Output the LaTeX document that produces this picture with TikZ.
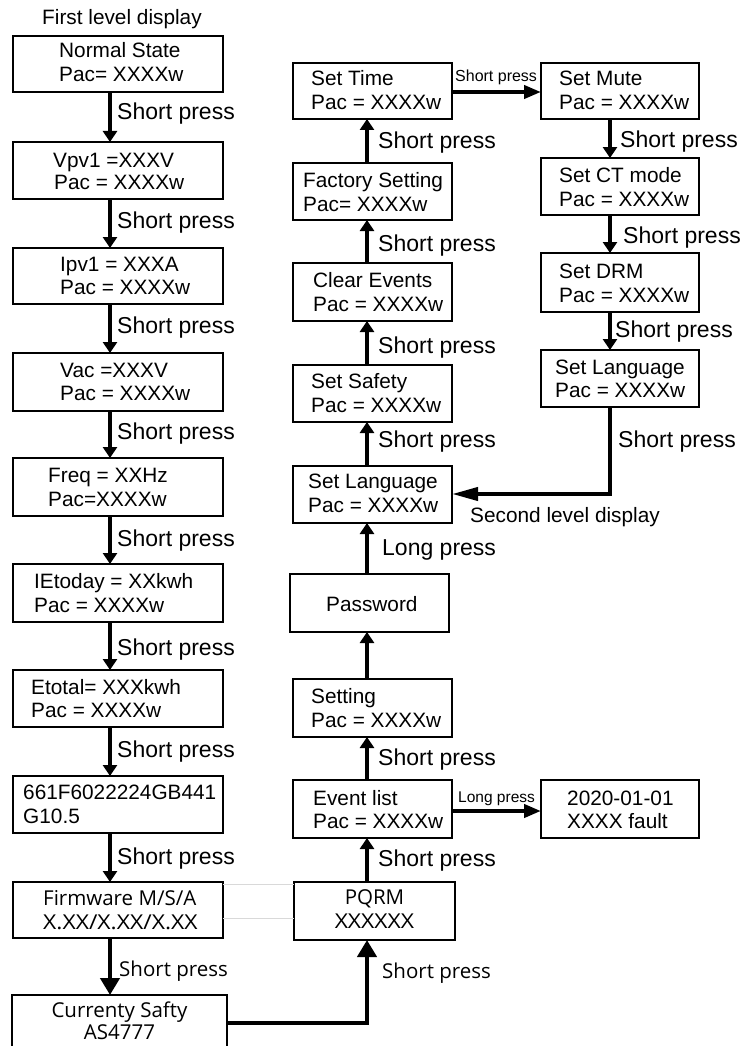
\documentclass[tikz,border=0pt]{standalone}
\usepackage{graphicx}
\usepackage{fontspec}
\setmainfont{Liberation Sans}
\newfontfamily\segf{Open Sans}
\usetikzlibrary{arrows.meta,fit}
\newcommand{\widex}[1]{\scalebox{1.12}[1]{#1}}
\begin{document}
\begin{tikzpicture}[x=1pt,y=-1pt,
  box/.style={draw, line width=1.9pt, inner sep=0pt, outer sep=0pt, fit={#1}},
  tx/.style={anchor=base west, inner sep=0pt, font=\fontsize{20.8}{24}\selectfont},
  txc/.style={anchor=base, inner sep=0pt, font=\segf\fontsize{20.5}{23}\selectfont},
  txs/.style={anchor=base west, inner sep=0pt, font=\segf\fontsize{20.5}{23}\selectfont},
  lab/.style={anchor=base west, inner sep=0pt, font=\fontsize{23}{27}\selectfont},
  slab/.style={anchor=base west, inner sep=0pt, font=\fontsize{15.5}{18}\selectfont},
  arr/.style={line width=4pt, -{Triangle[width=14pt,length=11pt]}},
  arrH/.style={line width=4pt, -{Triangle[width=13pt,length=17pt]}},
  arrB/.style={line width=4.5pt, -{Triangle[width=19pt,length=17pt]}},
  arrL/.style={line width=4pt, -{Triangle[width=13pt,length=26pt]}},
  faint/.style={draw=gray!30, line width=0.6pt}]
\useasboundingbox (0,0) rectangle (743,1046);

% column coordinates
\coordinate (xl) at (110,0);
\coordinate (xm) at (367,0);
\coordinate (xr) at (610,0);
\coordinate (yt) at (0,92);
\coordinate (ye) at (0,811);
\coordinate (ylang) at (0,494);
\coordinate (yc) at (0,1023);
\coordinate (yf1) at (0,884);
\coordinate (yf2) at (0,918);

\node[tx] (title) at (42,25) {First level display};

% left column
\node[box={(13,36) (223,92)}] (ns) {};
\node[tx] (ns1) at (59,58) {Normal State};
\node[tx] (ns2) at (59,82) {Pac= XXXXw};

\node[box={(13,142) (223,199)}] (vpv) {};
\node[tx] (vpv1) at (53,167) {Vpv1 =XXXV};
\node[tx] (vpv2) at (54,189) {Pac = XXXXw};

\node[box={(13,248) (223,304)}] (ipv) {};
\node[tx] (ipv1) at (60,271) {Ipv1 = XXXA};
\node[tx] (ipv2) at (60,294) {Pac = XXXXw};

\node[box={(13,353) (223,411)}] (vac) {};
\node[tx] (vac1) at (60,377) {Vac =XXXV};
\node[tx] (vac2) at (60,400) {Pac = XXXXw};

\node[box={(13,458) (223,516)}] (frq) {};
\node[tx] (frq1) at (48,482) {Freq = XXHz};
\node[tx] (frq2) at (48,506) {Pac=XXXXw};

\node[box={(13,564) (223,622)}] (etd) {};
\node[tx] (etd1) at (34,588) {IEtoday = XXkwh};
\node[tx] (etd2) at (34,612) {Pac = XXXXw};

\node[box={(13,670) (223,727)}] (etl) {};
\node[tx] (etl1) at (31,694) {Etotal= XXXkwh};
\node[tx] (etl2) at (31,717) {Pac = XXXXw};

\node[box={(13,776) (223,833)}] (ser) {};
\node[tx] (ser1) at (23,799) {661F6022224GB441};
\node[tx] (ser2) at (23,823) {G10.5};

\node[box={(13,882) (223,938)}] (fw) {};
\node[txs] (fw1) at (43,905) {Firmware M/S/A};
\node[txs] (fw2) at (43,929) {\widex{X.XX/X.XX/X.XX}};

\node[box={(12,995) (227,1052)}] (cur) {};
\node[txc] (cur1) at (119.5,1017) {Currenty Safty};
\node[txc] (cur2) at (119.5,1039) {AS4777};

% middle column
\node[box={(293,63) (452,119)}] (stime) {};
\node[tx] (stime1) at (311,86) {Set Time};
\node[tx] (stime2) at (311,110) {Pac = XXXXw};

\node[box={(293,163) (452,220)}] (fact) {};
\node[tx] (fact1) at (303,187) {Factory Setting};
\node[tx] (fact2) at (303,211) {Pac= XXXXw};

\node[box={(293,263) (452,321)}] (clr) {};
\node[tx] (clr1) at (313,287) {Clear Events};
\node[tx] (clr2) at (313,311) {Pac = XXXXw};

\node[box={(293,365) (452,422)}] (ssaf) {};
\node[tx] (ssaf1) at (311,388) {Set Safety};
\node[tx] (ssaf2) at (311,412) {Pac = XXXXw};

\node[box={(293,466) (452,523)}] (slm) {};
\node[tx] (slm1) at (308,488) {Set Language};
\node[tx] (slm2) at (308,512) {Pac = XXXXw};

\node[box={(290,574) (449,632)}] (pwd) {};
\node[tx] (pwd1) at (326,611) {Password};

\node[box={(293,679) (452,737)}] (setg) {};
\node[tx] (setg1) at (311,703) {Setting};
\node[tx] (setg2) at (311,727) {Pac = XXXXw};

\node[box={(293,780) (452,838)}] (evl) {};
\node[tx] (evl1) at (313,805) {Event list};
\node[tx] (evl2) at (313,828) {Pac = XXXXw};

\node[box={(294,882) (455,940)}, line width=2.4pt] (pq) {};
\node[txc] (pq1) at (374.5,904) {PQRM};
\node[txc] (pq2) at (374.5,928) {\widex{XXXXXX}};

% right column
\node[box={(541,63) (699,119)}] (smute) {};
\node[tx] (smute1) at (559,86) {Set Mute};
\node[tx] (smute2) at (559,110) {Pac = XXXXw};

\node[box={(541,158) (699,215)}] (sct) {};
\node[tx] (sct1) at (559,182) {Set CT mode};
\node[tx] (sct2) at (559,206) {Pac = XXXXw};

\node[box={(541,253) (699,312)}] (sdrm) {};
\node[tx] (sdrm1) at (559,278) {Set DRM};
\node[tx] (sdrm2) at (559,302) {Pac = XXXXw};

\node[box={(541,350) (699,407)}] (slr) {};
\node[tx] (slr1) at (555,374) {Set Language};
\node[tx] (slr2) at (555,397) {Pac = XXXXw};

\node[box={(541,780) (699,838)}] (flt) {};
\node[tx] (flt1) at (567,805) {2020-01-01};
\node[tx] (flt2) at (567,828) {XXXX fault};

% left column connectors
\draw[arr] (ns.south -| xl) -- (vpv.north -| xl);
\draw[arr] (vpv.south -| xl) -- (ipv.north -| xl);
\draw[arr] (ipv.south -| xl) -- (vac.north -| xl);
\draw[arr] (vac.south -| xl) -- (frq.north -| xl);
\draw[arr] (frq.south -| xl) -- (etd.north -| xl);
\draw[arr] (etd.south -| xl) -- (etl.north -| xl);
\draw[arr] (etl.south -| xl) -- (ser.north -| xl);
\draw[arr] (ser.south -| xl) -- (fw.north -| xl);
\draw[arrB] (fw.south -| xl) -- (cur.north -| xl);
\draw[arrB] (cur.east |- yc) -| (pq.south -| xm);

% middle column connectors
\draw[arr] (pq.north -| xm) -- (evl.south -| xm);
\draw[arr] (evl.north -| xm) -- (setg.south -| xm);
\draw[arr] (setg.north -| xm) -- (pwd.south -| xm);
\draw[arr] (pwd.north -| xm) -- (slm.south -| xm);
\draw[arr] (slm.north -| xm) -- (ssaf.south -| xm);
\draw[arr] (ssaf.north -| xm) -- (clr.south -| xm);
\draw[arr] (clr.north -| xm) -- (fact.south -| xm);
\draw[arr] (fact.north -| xm) -- (stime.south -| xm);
\draw[arrH] (stime.east |- yt) -- (smute.west |- yt);
\draw[arrH] (evl.east |- ye) -- (flt.west |- ye);

% right column connectors
\draw[arr] (smute.south -| xr) -- (sct.north -| xr);
\draw[arr] (sct.south -| xr) -- (sdrm.north -| xr);
\draw[arr] (sdrm.south -| xr) -- (slr.north -| xr);
\draw[arrL] (slr.south -| xr) |- (slm.east |- ylang);

% faint lines
\draw[faint] (fw.east |- yf1) -- (pq.west |- yf1);
\draw[faint] (fw.east |- yf2) -- (pq.west |- yf2);

% labels left
\node[lab] (l1) at (117,120) {Short press};
\node[lab] (l2) at (117,228) {Short press};
\node[lab] (l3) at (117,333) {Short press};
\node[lab] (l4) at (117,439) {Short press};
\node[lab] (l5) at (117,546) {Short press};
\node[lab] (l6) at (117,655) {Short press};
\node[lab] (l7) at (117,757) {Short press};
\node[lab] (l8) at (117,864) {Short press};
\node[txs] (l9) at (119,976) {Short press};

% labels middle
\node[lab] (m1) at (378,148) {Short press};
\node[lab] (m2) at (378,251) {Short press};
\node[lab] (m3) at (378,353) {Short press};
\node[lab] (m4) at (378,447) {Short press};
\node[lab] (m5) at (382,555) {Long press};
\node[lab] (m6) at (378,765) {Short press};
\node[lab] (m7) at (378,866) {Short press};
\node[txs] (m8) at (382,978) {Short press};
\node[slab, font=\fontsize{16}{19}\selectfont] (m9) at (455,82) {Short press};
\node[slab] (m10) at (458,802) {Long press};

% labels right
\node[lab] (r1) at (620,147) {Short press};
\node[lab] (r2) at (623,243) {Short press};
\node[lab] (r3) at (615,337) {Short press};
\node[lab] (r4) at (618,447) {Short press};
\node[tx] (sld) at (470,522) {Second level display};
\end{tikzpicture}
\end{document}
